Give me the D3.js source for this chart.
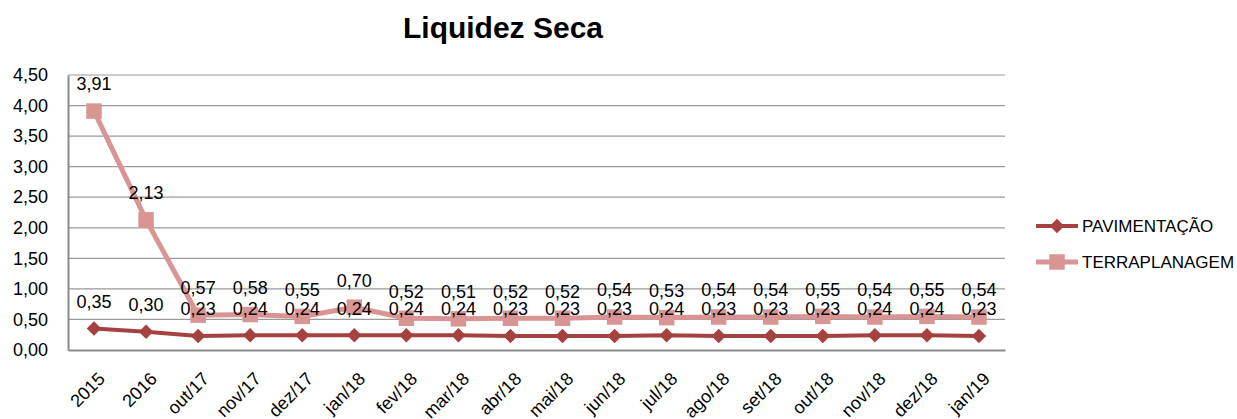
<!DOCTYPE html>
<html>
<head>
<meta charset="utf-8">
<script src="https://cdn.jsdelivr.net/npm/d3@7"></script>
<style>
  body { margin: 0; background: #fff; }
  svg { font-family: "Liberation Sans", Arial, sans-serif; }
</style>
</head>
<body>
<svg id="chart" width="1237" height="419"></svg>
<script>
// categories and series
const categories = ["2015", "2016", "out/17", "nov/17", "dez/17", "jan/18", "fev/18", "mar/18", "abr/18",
  "mai/18", "jun/18", "jul/18", "ago/18", "set/18", "out/18", "nov/18", "dez/18", "jan/19"];
const pavimentacao = [0.35, 0.30, 0.23, 0.24, 0.24, 0.24, 0.24, 0.24, 0.23,
  0.23, 0.23, 0.24, 0.23, 0.23, 0.23, 0.24, 0.24, 0.23];
const terraplanagem = [3.91, 2.13, 0.57, 0.58, 0.55, 0.70, 0.52, 0.51, 0.52,
  0.52, 0.54, 0.53, 0.54, 0.54, 0.55, 0.54, 0.55, 0.54];
const yTicks = [0, 0.5, 1, 1.5, 2, 2.5, 3, 3.5, 4, 4.5];

// diamond = square turned 45 degrees
const series = [
  { name: "PAVIMENTAÇÃO", values: pavimentacao, color: "#a5423f", width: 4, symbol: d3.symbolSquare, size: 105, rot: 45 },
  { name: "TERRAPLANAGEM", values: terraplanagem, color: "#d99593", width: 5, symbol: d3.symbolSquare, size: 240, rot: 0 }
];

const W = 1237, H = 419;
const margin = { top: 75, right: 232, bottom: 69, left: 68 };
const innerW = W - margin.left - margin.right;
const innerH = H - margin.top - margin.bottom;

// decimal comma, like the source
const locale = d3.formatLocale({ decimal: ",", thousands: ".", grouping: [3], currency: ["R$", ""] });
const fmt = locale.format(".2f");

const svg = d3.select("#chart");

svg.append("text")
  .attr("x", 503)
  .attr("y", 38)
  .attr("text-anchor", "middle")
  .style("font-size", "30px")
  .style("font-weight", "bold")
  .text("Liquidez Seca");

const g = svg.append("g").attr("transform", `translate(${margin.left},${margin.top})`);

const x = d3.scaleBand().domain(categories).range([0, innerW]);
const y = d3.scaleLinear().domain([0, 4.5]).range([innerH, 0]);
const cx = d => x(d) + x.bandwidth() / 2;

// gridlines
g.append("g")
  .selectAll("line")
  .data(yTicks.slice(1))
  .join("line")
  .attr("x1", 0).attr("x2", innerW)
  .attr("y1", d => y(d)).attr("y2", d => y(d))
  .attr("stroke", "#9a9a9a")
  .attr("stroke-width", 1.2);

// y axis
const yAxis = g.append("g")
  .call(d3.axisLeft(y).tickValues(yTicks).tickFormat(fmt).tickSize(0).tickPadding(20));
yAxis.select(".domain").attr("stroke", "#8a8a8a").attr("stroke-width", 2);
yAxis.selectAll("text").style("font-size", "18px").attr("fill", "#000")
  .attr("font-family", null);

// x axis
const xAxis = g.append("g")
  .attr("transform", `translate(0,${innerH})`)
  .call(d3.axisBottom(x).tickSize(0).tickPadding(0));
xAxis.select(".domain").attr("stroke", "#8a8a8a").attr("stroke-width", 2);
xAxis.selectAll("text")
  .style("font-size", "18px")
  .attr("fill", "#000")
  .attr("font-family", null)
  .attr("text-anchor", "end")
  .attr("dy", null)
  .attr("y", null)
  .attr("transform", "translate(12,30) rotate(-45)");

const line = d3.line().x((d, i) => cx(categories[i])).y(d => y(d));

series.forEach(s => {
  g.append("path")
    .datum(s.values)
    .attr("fill", "none")
    .attr("stroke", s.color)
    .attr("stroke-width", s.width)
    .attr("d", line);

  g.append("g")
    .selectAll("path")
    .data(s.values)
    .join("path")
    .attr("transform", (d, i) => `translate(${cx(categories[i])},${y(d)}) rotate(${s.rot})`)
    .attr("d", d3.symbol(s.symbol, s.size))
    .attr("fill", s.color);
});

// data labels
series.forEach(s => {
  g.append("g")
    .selectAll("text")
    .data(s.values)
    .join("text")
    .attr("x", (d, i) => cx(categories[i]))
    .attr("y", d => y(d) - 27)
    .attr("dy", "0.35em")
    .attr("text-anchor", "middle")
    .style("font-size", "18px")
    .text(d => fmt(d));
});

// legend
const legend = svg.append("g").attr("transform", "translate(1036,226)");
series.forEach((s, i) => {
  const row = legend.append("g").attr("transform", `translate(0,${i * 36})`);
  row.append("line")
    .attr("x1", 0).attr("x2", 42)
    .attr("stroke", s.color)
    .attr("stroke-width", s.width);
  row.append("path")
    .attr("transform", `translate(21,0) rotate(${s.rot})`)
    .attr("d", d3.symbol(s.symbol, s.size))
    .attr("fill", s.color);
  row.append("text")
    .attr("x", 46)
    .attr("dy", "0.35em")
    .style("font-size", "17px")
    .text(s.name);
});
</script>
</body>
</html>
